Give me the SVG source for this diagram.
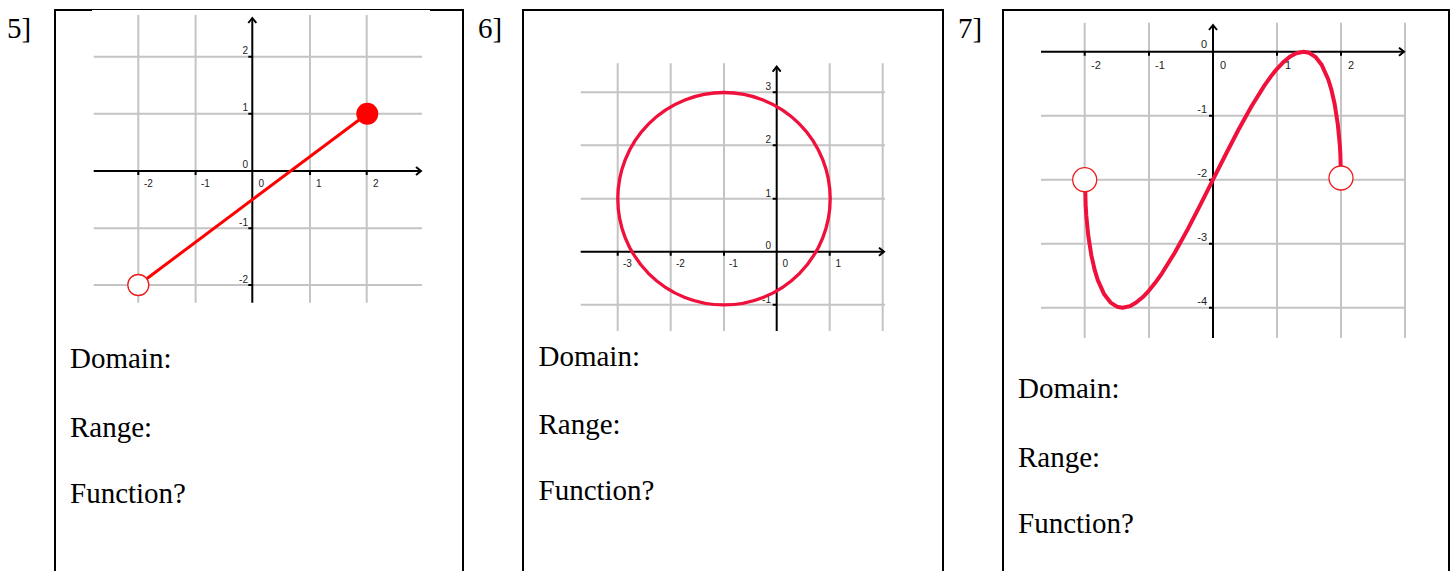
<svg xmlns="http://www.w3.org/2000/svg" width="1453" height="571" viewBox="0 0 1453 571">
<style>
.box{fill:none;stroke:#000;stroke-width:2}
.grid{stroke:#c4c4c4;stroke-width:2;fill:none}
.axis{stroke:#000;stroke-width:2;fill:none}
.tick{stroke:#000;stroke-width:2}
.num{font-family:"Liberation Sans",Arial,sans-serif;font-size:10px;fill:#222}
.num7{font-family:"Liberation Sans",Arial,sans-serif;font-size:11px;fill:#222}
.end{text-anchor:end}
.lbl{font-family:"Liberation Serif","Times New Roman",serif;font-size:29px;fill:#000}
.open{fill:#fff;stroke:#f01a1a;stroke-width:1.3}
</style>
<defs>
<marker id="arr" viewBox="0 0 10 10" refX="8" refY="5" markerWidth="10" markerHeight="10" markerUnits="userSpaceOnUse" orient="auto">
<path d="M3,1 L8,5 L3,9" fill="none" stroke="#000" stroke-width="2"/>
</marker>
</defs>
<rect width="1453" height="571" fill="#fff"/>

<g id="panel5">
<text class="lbl" x="7" y="38">5]</text>
<path class="box" d="M55,571 V10 H92 M430,10 H463 V571"/>
<path d="M92,9.5 H430" stroke="#000" stroke-width="1"/>
<path class="grid" d="M138.3,15 V302.7 M195.6,15 V302.7 M310,15 V302.7 M366.7,15 V302.7 M93.7,56.7 H422 M93.7,113.7 H422 M93.7,228.3 H422 M93.7,285 H422"/>
<path class="axis" d="M93.7,171 H421" marker-end="url(#arr)"/>
<path class="axis" d="M252.3,302.7 V18" marker-end="url(#arr)"/>
<path class="tick" d="M138.3,171 v4 M195.6,171 v4 M310,171 v4 M366.7,171 v4 M252.3,56.7 h-4 M252.3,113.7 h-4 M252.3,228.3 h-4 M252.3,285 h-4"/>
<text class="num end" x="248" y="54">2</text>
<text class="num end" x="248" y="111">1</text>
<text class="num end" x="248" y="168">0</text>
<text class="num end" x="248" y="226">-1</text>
<text class="num end" x="248" y="282.5">-2</text>
<text class="num" x="144" y="186.5">-2</text>
<text class="num" x="201" y="186.5">-1</text>
<text class="num" x="258.5" y="186.5">0</text>
<text class="num" x="316" y="186.5">1</text>
<text class="num" x="373" y="186.5">2</text>
<line x1="138.3" y1="285" x2="367.3" y2="113.7" stroke="#ff0000" stroke-width="3"/>
<circle class="open" cx="138.3" cy="285" r="10.5"/>
<circle cx="367.3" cy="113.7" r="11" fill="#ff0000"/>
<text class="lbl" x="70" y="368">Domain:</text>
<text class="lbl" x="70" y="436.5">Range:</text>
<text class="lbl" x="70" y="503">Function?</text>
</g>

<g id="panel6">
<text class="lbl" x="478" y="38">6]</text>
<path class="box" d="M523,571 V10 H943 V571"/>
<path class="grid" d="M617.7,63.3 V331 M670.7,63.3 V331 M724,63.3 V331 M829.7,63.3 V331 M882.7,63.3 V331 M580.7,92.3 H885 M580.7,145.3 H885 M580.7,198.7 H885 M580.7,304.7 H885"/>
<path class="axis" d="M580.7,251.7 H884" marker-end="url(#arr)"/>
<path class="axis" d="M776.7,331 V66.7" marker-end="url(#arr)"/>
<path class="tick" d="M617.7,251.7 v4 M670.7,251.7 v4 M724,251.7 v4 M829.7,251.7 v4 M776.7,92.3 h-4 M776.7,145.3 h-4 M776.7,198.7 h-4 M776.7,304.7 h-4"/>
<text class="num end" x="771" y="90">3</text>
<text class="num end" x="771" y="143.3">2</text>
<text class="num end" x="771" y="196.7">1</text>
<text class="num end" x="771" y="249.3">0</text>
<text class="num end" x="771" y="303.3">-1</text>
<text class="num" x="623" y="266.7">-3</text>
<text class="num" x="676" y="266.7">-2</text>
<text class="num" x="729" y="266.7">-1</text>
<text class="num" x="782.5" y="266.7">0</text>
<text class="num" x="835.5" y="266.7">1</text>
<circle cx="724" cy="198.7" r="106.2" fill="none" stroke="#f0103c" stroke-width="3.3"/>
<text class="lbl" x="538.5" y="366">Domain:</text>
<text class="lbl" x="538.5" y="434">Range:</text>
<text class="lbl" x="538.5" y="500">Function?</text>
</g>

<g id="panel7">
<text class="lbl" x="958" y="38">7]</text>
<path class="box" d="M1003,571 V10 H1449 V571"/>
<path class="grid" d="M1084.7,22.7 V338 M1149,22.7 V338 M1277,22.7 V338 M1341,22.7 V338 M1405,22.7 V338 M1041,115.7 H1405 M1041,179.7 H1405 M1041,243.7 H1405 M1041,307.7 H1405"/>
<path class="axis" d="M1041,51.7 H1404" marker-end="url(#arr)"/>
<path class="axis" d="M1213,338 V25" marker-end="url(#arr)"/>
<path class="tick" d="M1084.7,51.7 v4 M1149,51.7 v4 M1277,51.7 v4 M1341,51.7 v4 M1213,115.7 h-4 M1213,179.7 h-4 M1213,243.7 h-4 M1213,307.7 h-4"/>
<text class="num7 end" x="1207" y="48">0</text>
<text class="num7 end" x="1207" y="112.5">-1</text>
<text class="num7 end" x="1207" y="176.5">-2</text>
<text class="num7 end" x="1207" y="240.5">-3</text>
<text class="num7 end" x="1207" y="304.5">-4</text>
<text class="num7" x="1091" y="69">-2</text>
<text class="num7" x="1155" y="69">-1</text>
<text class="num7" x="1220" y="69">0</text>
<text class="num7" x="1285" y="69">1</text>
<text class="num7" x="1348" y="69">2</text>
<path fill="none" stroke="#f0103c" stroke-width="4" stroke-linejoin="round" stroke-linecap="round" d="M1085,179.7 L1085.64,205.1 L1086.28,215.45 L1088.2,235.16 L1091.4,255.64 L1094.6,269.68 L1097.8,280.13 L1104.2,294.33 L1110.6,302.58 L1117,306.68 L1122.5,307.7 L1129.8,306.15 L1136.2,302.58 L1142.6,297.29 L1149,290.55 L1155.4,282.58 L1161.8,273.55 L1174.6,252.96 L1187.4,229.87 L1200.2,205.17 L1213,179.7 L1225.8,154.23 L1238.6,129.53 L1251.4,106.44 L1264.2,85.85 L1270.6,76.82 L1277,68.85 L1283.4,62.11 L1289.8,56.82 L1296.2,53.25 L1303.5,51.7 L1309,52.72 L1315.4,56.82 L1321.8,65.07 L1328.2,79.27 L1331.4,89.72 L1334.6,103.76 L1337.8,124.24 L1339.72,143.95 L1340.36,154.3 L1341,179.7"/>
<circle class="open" cx="1084.7" cy="179.7" r="12"/>
<circle class="open" cx="1341" cy="178" r="12"/>
<text class="lbl" x="1018" y="398">Domain:</text>
<text class="lbl" x="1018" y="467">Range:</text>
<text class="lbl" x="1018" y="533">Function?</text>
</g>
</svg>
